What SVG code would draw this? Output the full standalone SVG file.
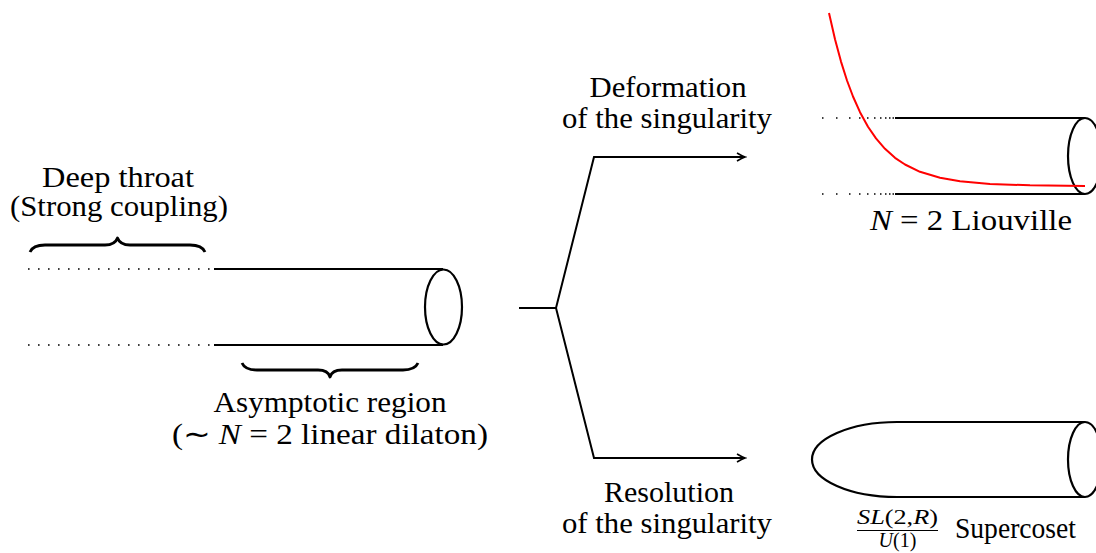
<svg xmlns="http://www.w3.org/2000/svg" width="1096" height="553" viewBox="0 0 1096 553">
<defs>
<style>
.t{font-family:"Liberation Serif","Times New Roman",serif;font-size:29px;fill:#000}
.ts{font-family:"Liberation Serif","Times New Roman",serif;font-size:20px;fill:#000}
.it{font-style:italic}
.ln{fill:none;stroke:#000;stroke-width:2.2}
.dot{fill:none;stroke:#000;stroke-width:1.6;stroke-dasharray:1.6 8.4}
.br{fill:none;stroke:#000;stroke-width:2.8;stroke-linejoin:round}
.cn{fill:none;stroke:#000;stroke-width:2}
</style>
<marker id="arr" viewBox="-10 -6 12 12" markerWidth="12" markerHeight="12" refX="0" refY="0" orient="auto" markerUnits="userSpaceOnUse">
<path d="M-8,-4 Q-3,-1 0,0 Q-3,1 -8,4" fill="none" stroke="#000" stroke-width="1.6"/>
</marker>
</defs>
<rect width="1096" height="553" fill="#fff"/>

<g id="left-cylinder">
<path class="dot" d="M28 269H212M28 345H212"/>
<path class="ln" d="M214 269H443M214 345H443"/>
<ellipse class="ln" cx="443.5" cy="307" rx="18.5" ry="37.5"/>
</g>

<g id="deep-throat">
<path class="br" d="M30 252Q33 245 45 245H105Q115 245 117.5 238Q120 245 130 245H190Q202 245 205 252"/>
<text class="t" x="118" y="187" text-anchor="middle" textLength="152" lengthAdjust="spacingAndGlyphs">Deep throat</text>
<text class="t" x="119" y="216" text-anchor="middle" textLength="218" lengthAdjust="spacingAndGlyphs">(Strong coupling)</text>
</g>

<g id="asymptotic-region">
<path class="br" d="M242 363Q245 370 257 370H318Q328 370 330 377Q332 370 342 370H403Q415 370 418 363"/>
<text class="t" x="330" y="412" text-anchor="middle" textLength="233" lengthAdjust="spacingAndGlyphs">Asymptotic region</text>
<text class="t" x="330" y="444" text-anchor="middle" textLength="316" lengthAdjust="spacingAndGlyphs">(∼ <tspan class="it">N</tspan> = 2 linear dilaton)</text>
</g>

<g id="connectors">
<path class="cn" d="M519 308H556"/>
<path class="cn" d="M556 308L594 157H745" marker-end="url(#arr)"/>
<path class="cn" d="M556 308L594 458H745" marker-end="url(#arr)"/>
</g>

<g id="deformation-label">
<text class="t" x="668" y="97" text-anchor="middle" textLength="157" lengthAdjust="spacingAndGlyphs">Deformation</text>
<text class="t" x="667" y="128" text-anchor="middle" textLength="210" lengthAdjust="spacingAndGlyphs">of the singularity</text>
</g>

<g id="resolution-label">
<text class="t" x="669" y="502" text-anchor="middle" textLength="130" lengthAdjust="spacingAndGlyphs">Resolution</text>
<text class="t" x="667" y="533" text-anchor="middle" textLength="210" lengthAdjust="spacingAndGlyphs">of the singularity</text>
</g>

<g id="liouville">
<path d="M822 118h1.5M836 118h1.5M849 118h1.5M859 118h1.5M867 118h1.5M874 118h1.5M880 118h1.5M885 118h1.5M889 118h1.5M892.5 118h1.5M822 194h1.5M836 194h1.5M849 194h1.5M859 194h1.5M867 194h1.5M874 194h1.5M880 194h1.5M885 194h1.5M889 194h1.5M892.5 194h1.5" fill="none" stroke="#000" stroke-width="1.6"/>
<path class="ln" d="M895 118H1085M895 194H1085"/>
<ellipse class="ln" cx="1085" cy="156" rx="17" ry="38"/>
<polyline points="829,13 835,39.3 841,61.6 847,80.5 853,96.5 860,112.2 868,126.7 876,138.4 885,148.8 895,157.8 905,164.5 920,171.8 940,177.8 960,181.3 990,183.9 1030,185.3 1085,186" fill="none" stroke="#ff0000" stroke-width="2" stroke-linejoin="round"/>
<text class="t" x="870" y="230" textLength="202" lengthAdjust="spacingAndGlyphs"><tspan class="it">N</tspan> = 2 Liouville</text>
</g>

<g id="supercoset">
<path class="ln" d="M1085 422H897A85 37.5 0 0 0 897 497H1085"/>
<ellipse class="ln" cx="1085" cy="459.5" rx="17" ry="37.5"/>
<text class="ts" x="897.5" y="524" text-anchor="middle" textLength="81" lengthAdjust="spacingAndGlyphs"><tspan class="it">SL</tspan>(2,<tspan class="it">R</tspan>)</text>
<path d="M857 530.5H938" stroke="#000" stroke-width="1.2"/>
<text class="ts" x="897.5" y="547" text-anchor="middle" font-size="19"><tspan class="it">U</tspan>(1)</text>
<text class="t" x="955" y="538" textLength="121" lengthAdjust="spacingAndGlyphs">Supercoset</text>
</g>
</svg>
